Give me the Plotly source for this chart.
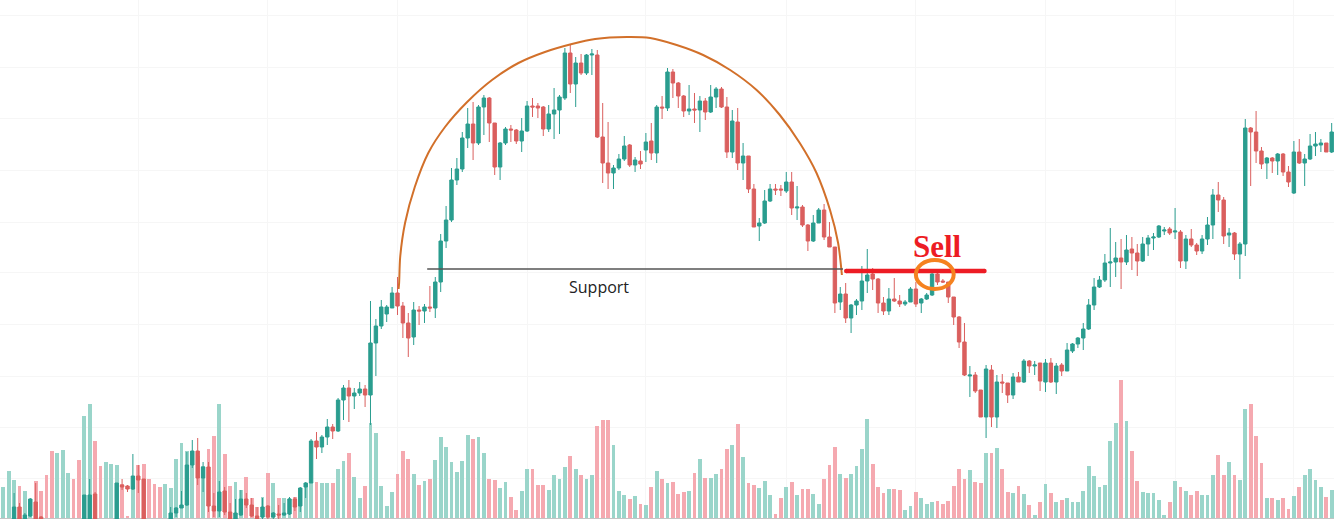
import plotly.graph_objects as go

N = None

# u = up bar, d = down bar, ten bars a row
directions = (
    "uuuduudddd" "uuudduuddu" "uudduddddd" "uuuuuududd" "udduudddud"
    "uduuduuudu" "uduuduuduu" "uuudddudud" "uuuuuuuduu" "dduudduudd"
    "duuuududuu" "ddduuududu" "dududddudu" "duuddududd" "uuuddududd"
    "uuddduduuu" "udddudduud" "uuuddddddu" "ddududdudu" "dudududuuu"
    "uuuuuuudud" "duuuuududu" "dduuuddudu" "udddududdu" "duuuudu"
)

body_top = [
    N, N, 12, 12, 4, 20, 17, 2, N, N,
    N, N, N, N, N, 24, 24, 25, N, N,
    N, 36, 34, 33, 43, 43, 40, N, N, N,
    N, 6, 11, 14, 54, 68, 68, 52, 52, 13,
    27, 28, 7, 6, 20, 20, 14, 3, 12, 13,
    6, 5, 6, 20, 20, 31, 36, 78, 78, 82,
    92, 92, 119, 131, 131, 126, 130, 130, 176, 193,
    212, 212, 226, 226, 213, 196, 209, 209, 212, 212,
    237, 278, 299, 339, 350, 381, 395, 395, 412, 421,
    421, 396, 376, 390, 390, 389, 388, 413, 413, 413,
    412, 405, 409, 422, 466, 466, 456, 456, 464, 465,
    464, 382, 356, 351, 360, 373, 374, 359, 358, 377,
    378, 412, 412, 447, 447, 436, 423, 410, 410, 418,
    418, 422, 430, 430, 412, 398, 397, 363, 363, 330,
    296, 318, 330, 330, 330, 337, 337, 312, 312, 294,
    296, 309, 309, 282, 272, 225, 225, 214, 218, 238,
    244, 245, 240, 216, 220, 220, 218, 217, 230, 230,
    220, 224, 245, 245, 238, 237, 222, 202, 177, 144,
    144, 129, 150, 149, 137, 137, 136, 142, 142, 158,
    158, 154, 156, 156, 156, 153, 154, 169, 175, 181,
    190, 214, 232, 239, 256, 257, 261, 261, 269, 270,
    266, 275, 281, 282, 293, 289, 290, 288, 287, 280,
    280, 274, 280, 294, 324, 324, 319, 286, 286, 275,
    391, 391, 387, 368, 361, 361, 365, 365, 347, 367,
    367, 360, 373, 375, 376, 376, 387,
]

body_bottom = [
    N, N, 0, 0, 0, 3, 0, 0, N, N,
    N, N, N, N, N, 0, 0, 0, N, N,
    N, 0, 32, 30, 30, 39, 0, N, N, N,
    N, 0, 6, 11, 14, 54, 41, 41, 13, 8,
    8, 7, 0, 0, 4, 14, 3, 0, 2, 2,
    2, 4, 4, 5, 12, 13, 32, 36, 72, 72,
    82, 88, 88, 119, 123, 123, 126, 124, 124, 176,
    193, 205, 211, 213, 196, 181, 182, 208, 208, 211,
    211, 237, 278, 299, 339, 350, 381, 376, 376, 412,
    396, 352, 352, 376, 389, 378, 378, 388, 412, 411,
    390, 390, 405, 409, 421, 435, 435, 446, 446, 464,
    382, 356, 346, 346, 351, 360, 354, 354, 355, 369,
    366, 366, 411, 411, 436, 423, 408, 408, 409, 409,
    407, 407, 422, 412, 367, 367, 356, 356, 330, 292,
    293, 296, 318, 329, 329, 328, 311, 311, 294, 278,
    278, 296, 282, 272, 216, 217, 201, 201, 214, 218,
    238, 240, 216, 208, 208, 218, 215, 215, 217, 215,
    216, 220, 224, 237, 237, 222, 202, 177, 144, 143,
    128, 102, 102, 102, 102, 136, 124, 124, 137, 137,
    153, 153, 138, 137, 137, 137, 148, 148, 168, 175,
    181, 190, 214, 232, 239, 256, 257, 257, 257, 266,
    258, 258, 275, 281, 282, 288, 286, 287, 258, 258,
    274, 268, 268, 280, 294, 319, 283, 284, 265, 265,
    275, 387, 368, 355, 356, 358, 358, 347, 337, 326,
    356, 356, 360, 373, 374, 367, 367,
]

wick_high = [
    N, N, 26, 16, 6, 21, 36, 3, N, N,
    N, N, N, N, N, 24, 40, 27, N, N,
    N, 36, 40, 34, 65, 54, 40, N, N, N,
    N, 12, 12, 28, 67, 79, 81, 57, 57, 26,
    38, 32, 16, 20, 29, 26, 21, 12, 21, 14,
    7, 14, 16, 22, 22, 32, 37, 80, 87, 84,
    100, 95, 121, 134, 139, 131, 137, 134, 218, 200,
    219, 214, 232, 242, 217, 206, 217, 213, 215, 233,
    242, 285, 313, 351, 361, 387, 411, 417, 414, 424,
    422, 396, 377, 392, 394, 390, 401, 418, 421, 416,
    413, 414, 431, 424, 471, 474, 462, 465, 465, 470,
    469, 416, 397, 354, 365, 383, 375, 362, 368, 386,
    396, 414, 423, 451, 450, 437, 424, 434, 426, 423,
    421, 434, 432, 432, 422, 409, 411, 376, 363, 335,
    301, 329, 335, 335, 334, 347, 347, 333, 314, 295,
    304, 311, 315, 297, 272, 232, 236, 215, 220, 253,
    270, 251, 241, 222, 231, 241, 224, 219, 232, 237,
    221, 226, 247, 247, 240, 237, 222, 203, 196, 153,
    147, 129, 154, 154, 144, 145, 136, 146, 147, 160,
    159, 158, 156, 160, 161, 156, 156, 176, 176, 182,
    196, 220, 241, 243, 265, 291, 277, 280, 284, 282,
    275, 282, 284, 286, 294, 292, 292, 311, 289, 284,
    290, 276, 284, 302, 330, 337, 322, 291, 287, 277,
    400, 392, 408, 372, 362, 362, 366, 366, 353, 378,
    380, 365, 385, 387, 380, 376, 396,
]

wick_low = [
    N, N, 0, 0, 0, 2, 0, 0, N, N,
    N, N, N, N, N, 0, 0, 0, N, N,
    N, 0, 29, 27, 29, 26, 0, N, N, N,
    N, 0, 2, 11, 13, 51, 34, 27, 7, 2,
    2, 4, 0, 0, 3, 11, 2, 0, 0, 0,
    0, 0, 3, 4, 8, 7, 21, 36, 60, 66,
    74, 80, 87, 99, 97, 110, 123, 112, 94, 143,
    190, 197, 211, 204, 181, 162, 174, 194, 196, 207,
    201, 227, 271, 297, 334, 347, 371, 359, 374, 384,
    377, 344, 339, 374, 377, 375, 367, 387, 402, 401,
    383, 387, 380, 385, 419, 426, 412, 444, 444, 444,
    381, 336, 330, 330, 349, 358, 352, 347, 350, 357,
    359, 356, 400, 408, 421, 411, 402, 404, 396, 387,
    399, 406, 411, 411, 361, 361, 349, 339, 326, 292,
    278, 295, 317, 324, 323, 326, 304, 299, 292, 268,
    277, 296, 279, 272, 206, 209, 196, 186, 204, 209,
    226, 229, 206, 204, 204, 217, 212, 213, 217, 212,
    206, 219, 223, 234, 236, 216, 194, 171, 143, 122,
    126, 102, 81, 92, 91, 126, 116, 120, 137, 136,
    146, 144, 128, 127, 136, 125, 143, 148, 166, 171,
    169, 189, 209, 231, 237, 232, 242, 230, 254, 249,
    243, 257, 263, 269, 281, 284, 284, 280, 251, 250,
    272, 264, 265, 274, 280, 307, 275, 272, 259, 240,
    263, 333, 356, 350, 340, 346, 344, 343, 332, 325,
    355, 333, 359, 363, 367, 367, 366,
]

volume = [
    31, 47, 38, 32, 27, 19, 37, 27, 43, 67,
    65, 68, 45, 39, 58, 102, 114, 77, 52, 56,
    54, 53, 34, 2, 32, 53, 54, 39, 34, 31,
    34, 30, 59, 75, 67, 67, 62, 52, 69, 82,
    114, 64, 32, 36, 28, 41, 20, 11, 21, 45,
    35, 20, 20, 20, 21, 28, 34, 36, 36, 35,
    35, 35, 49, 57, 65, 41, 20, 32, 95, 85,
    32, 12, 26, 44, 67, 59, 44, 33, 37, 39,
    58, 81, 71, 56, 46, 57, 83, 79, 81, 65,
    39, 38, 30, 36, 21, 8, 27, 49, 49, 33,
    33, 28, 43, 39, 51, 62, 49, 43, 39, 43,
    92, 98, 98, 73, 27, 23, 19, 22, 14, 13,
    31, 47, 39, 35, 36, 24, 26, 27, 45, 59,
    40, 40, 44, 49, 69, 73, 94, 61, 35, 33,
    30, 37, 23, 4, 20, 31, 36, 23, 29, 29,
    24, 14, 39, 53, 71, 44, 40, 44, 52, 69,
    99, 54, 31, 25, 29, 29, 28, 8, 12, 26,
    20, 14, 16, 17, 14, 17, 32, 49, 39, 48,
    36, 35, 65, 65, 70, 49, 26, 25, 32, 24,
    13, 3, 16, 34, 25, 16, 18, 20, 16, 16,
    27, 52, 42, 31, 33, 77, 95, 138, 97, 67,
    37, 26, 25, 25, 18, 3, 16, 37, 31, 27,
    23, 27, 23, 23, 43, 63, 43, 56, 43, 38,
    109, 114, 82, 55, 20, 20, 18, 20, 9, 22,
    31, 43, 49, 38, 31, 21, 28,
]

# hand drawn notes on top of the chart, in bar number / price units
arc_x = [73.2, 73.3, 73.5, 74.4, 76.2, 78.7, 81.8, 85.9, 90.5, 95.4, 100.3, 105.3, 109.6, 115.5,
         119.8, 124.7, 129.6, 134.6, 139.5, 143.8, 147.5, 150.6, 153.1, 154.6, 155.3]
arc_y = [230, 236, 262, 296, 332, 366, 392, 417, 439, 456, 467, 475, 480, 482,
         481, 474, 464, 449, 429, 404, 376, 346, 309, 276, 244]
support_x = [78.5, 155.5]
support_y = [250, 250]
sell_x = [156.1, 181.7]
sell_y = [248, 248]

grid_x = [25, 49, 73, 97, 119, 145, 169, 193, 217, 239]
grid_y = [41, 92, 143, 195, 247, 297, 349, 401, 452, 504]

TEAL = "#2a9d8f"
RED = "#da5f5e"
VOL_TEAL = "#9ad5ca"
VOL_RED = "#f5a9b0"

assert len(directions) == 247
for col in (body_top, body_bottom, wick_high, wick_low, volume):
    assert len(col) == 247

bars = list(range(247))
opens = [b if d == "u" else t for t, b, d in zip(body_top, body_bottom, directions)]
closes = [t if d == "u" else b for t, b, d in zip(body_top, body_bottom, directions)]
vol_colors = [VOL_TEAL if d == "u" else VOL_RED for d in directions]

fig = go.Figure()

fig.add_trace(go.Bar(x=bars, y=volume, width=0.72, marker=dict(color=vol_colors, line_width=0),
                     yaxis="y", hoverinfo="skip"))

fig.add_trace(go.Candlestick(x=bars, open=opens, high=wick_high, low=wick_low, close=closes,
                             yaxis="y2", whiskerwidth=0,
                             increasing=dict(line=dict(color=TEAL, width=1), fillcolor=TEAL),
                             decreasing=dict(line=dict(color=RED, width=1), fillcolor=RED)))

fig.add_trace(go.Scatter(x=arc_x, y=arc_y, yaxis="y2", mode="lines",
                         line=dict(color="#d2702a", width=2, shape="spline", smoothing=0.8), hoverinfo="skip"))
fig.add_trace(go.Scatter(x=support_x, y=support_y, yaxis="y2", mode="lines",
                         line=dict(color="#555555", width=1.3), hoverinfo="skip"))
fig.add_trace(go.Scatter(x=sell_x, y=sell_y, yaxis="y2", mode="lines+markers",
                         line=dict(color="#ed1c24", width=4.5),
                         marker=dict(color="#ed1c24", size=4.5), hoverinfo="skip"))

fig.add_shape(type="circle", xref="x", yref="y2", x0=169, x1=176, y0=230, y1=259,
              line=dict(color="#f58220", width=4))

fig.add_annotation(x=110.3, y=232, yref="y2", text="Support", showarrow=False,
                   font=dict(family="Open Sans", size=16, color="#222222"))
fig.add_annotation(x=173, y=273, yref="y2", text="<b>Sell</b>", showarrow=False,
                   font=dict(family="Liberation Serif", size=31, color="#ed1c24"))

fig.update_layout(
    width=1334, height=519,
    margin=dict(l=0, r=0, t=0, b=0),
    paper_bgcolor="white", plot_bgcolor="white",
    showlegend=False, bargap=0, boxgap=0.1,
    xaxis=dict(range=[-0.61, 246.43], rangeslider=dict(visible=False), showticklabels=False,
               tickvals=grid_x, ticks="", showgrid=True, gridcolor="#f6f6f6", gridwidth=1, zeroline=False),
    yaxis=dict(range=[-1, 518], showticklabels=False, showgrid=False, ticks="",
               zeroline=True, zerolinecolor="#c4c4c4", zerolinewidth=1),
    yaxis2=dict(range=[0, 519], overlaying="y", showticklabels=False, ticks="",
                tickvals=grid_y, showgrid=True, gridcolor="#f6f6f6", gridwidth=1, zeroline=False),
)

fig.write_html("out.html", config=dict(displayModeBar=False),
               post_script="document.body.style.margin='0';")
